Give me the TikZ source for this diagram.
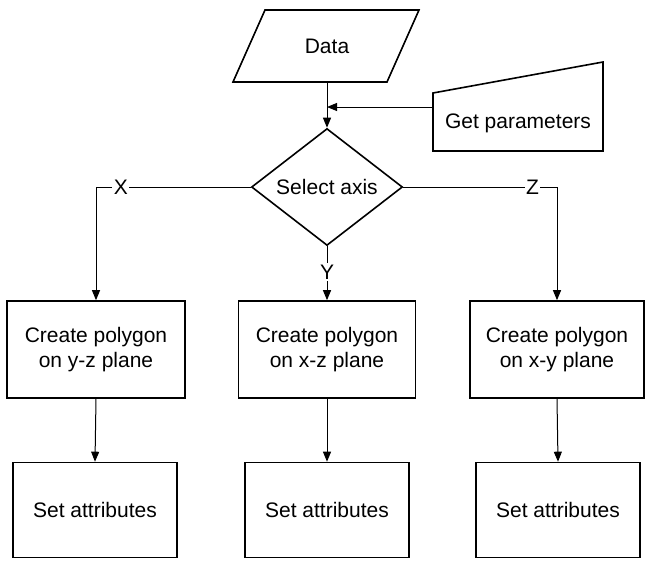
\documentclass[tikz,border=0pt]{standalone}
\usepackage{fontspec}
\setmainfont{Liberation Sans}
\usetikzlibrary{shapes.geometric,arrows.meta}
\begin{document}
\begin{tikzpicture}[x=1pt,y=-1pt,
  font=\fontsize{21}{25}\selectfont,
  shapeline/.style={line width=1.6pt},
  procbox/.style={shapeline,draw,rectangle,inner sep=0pt,align=center},
  conn/.style={line width=1pt},
  arr/.style={conn,-{Triangle[length=10pt,width=8pt]}},
  lbl/.style={fill=white,inner sep=1.5pt}]
\useasboundingbox (0,0) rectangle (645,560);
% Data parallelogram
\draw[shapeline] (233,82) -- (387,82) -- (419,10) -- (265,10) -- cycle;
\node[inner sep=0pt,minimum width=120pt,minimum height=72pt] (data) at (327,46) {Data};
% Get parameters (manual input)
\draw[shapeline] (433,93) -- (603,62) -- (603,151) -- (433,151) -- cycle;
\node[inner sep=0pt] (gp) at (518,123) {Get parameters};
\coordinate (gpin) at (433,107);
% Decision
\node[shapeline,draw,diamond,inner sep=0pt,minimum width=151pt,minimum height=98pt] (sel) at (327,187) {Select axis};
% Create boxes
\node[procbox,minimum width=178pt,minimum height=97pt] (c1) at (96,349.5) {Create polygon\\on y-z plane};
\node[procbox,minimum width=177pt,minimum height=97pt] (c2) at (327,349.5) {Create polygon\\on x-z plane};
\node[procbox,minimum width=174pt,minimum height=97pt] (c3) at (557,349.5) {Create polygon\\on x-y plane};
% Set attribute boxes
\node[procbox,minimum width=164pt,minimum height=95pt] (s1) at (95,510) {Set attributes};
\node[procbox,minimum width=164pt,minimum height=95pt] (s2) at (327,510) {Set attributes};
\node[procbox,minimum width=164pt,minimum height=95pt] (s3) at (558,510) {Set attributes};
% connectors
\draw[arr] (data.south) -- (sel.north);
\draw[arr] (gpin) -- (gpin -| sel.north);
\draw[arr] (sel.west) -- node[lbl,pos=0.84] (xl) {X} (c1.north |- sel.west) -- (c1.north);
\draw[arr] (sel.east) -- node[lbl,pos=0.84] (zl) {Z} (c3.north |- sel.east) -- (c3.north);
\draw[arr] (sel.south) -- node[lbl,pos=0.48] (yl) {Y} (c2.north);
\draw[arr] (c1.south) -- (s1.north);
\draw[arr] (c2.south) -- (s2.north);
\draw[arr] (c3.south) -- (s3.north);
\end{tikzpicture}
\end{document}
